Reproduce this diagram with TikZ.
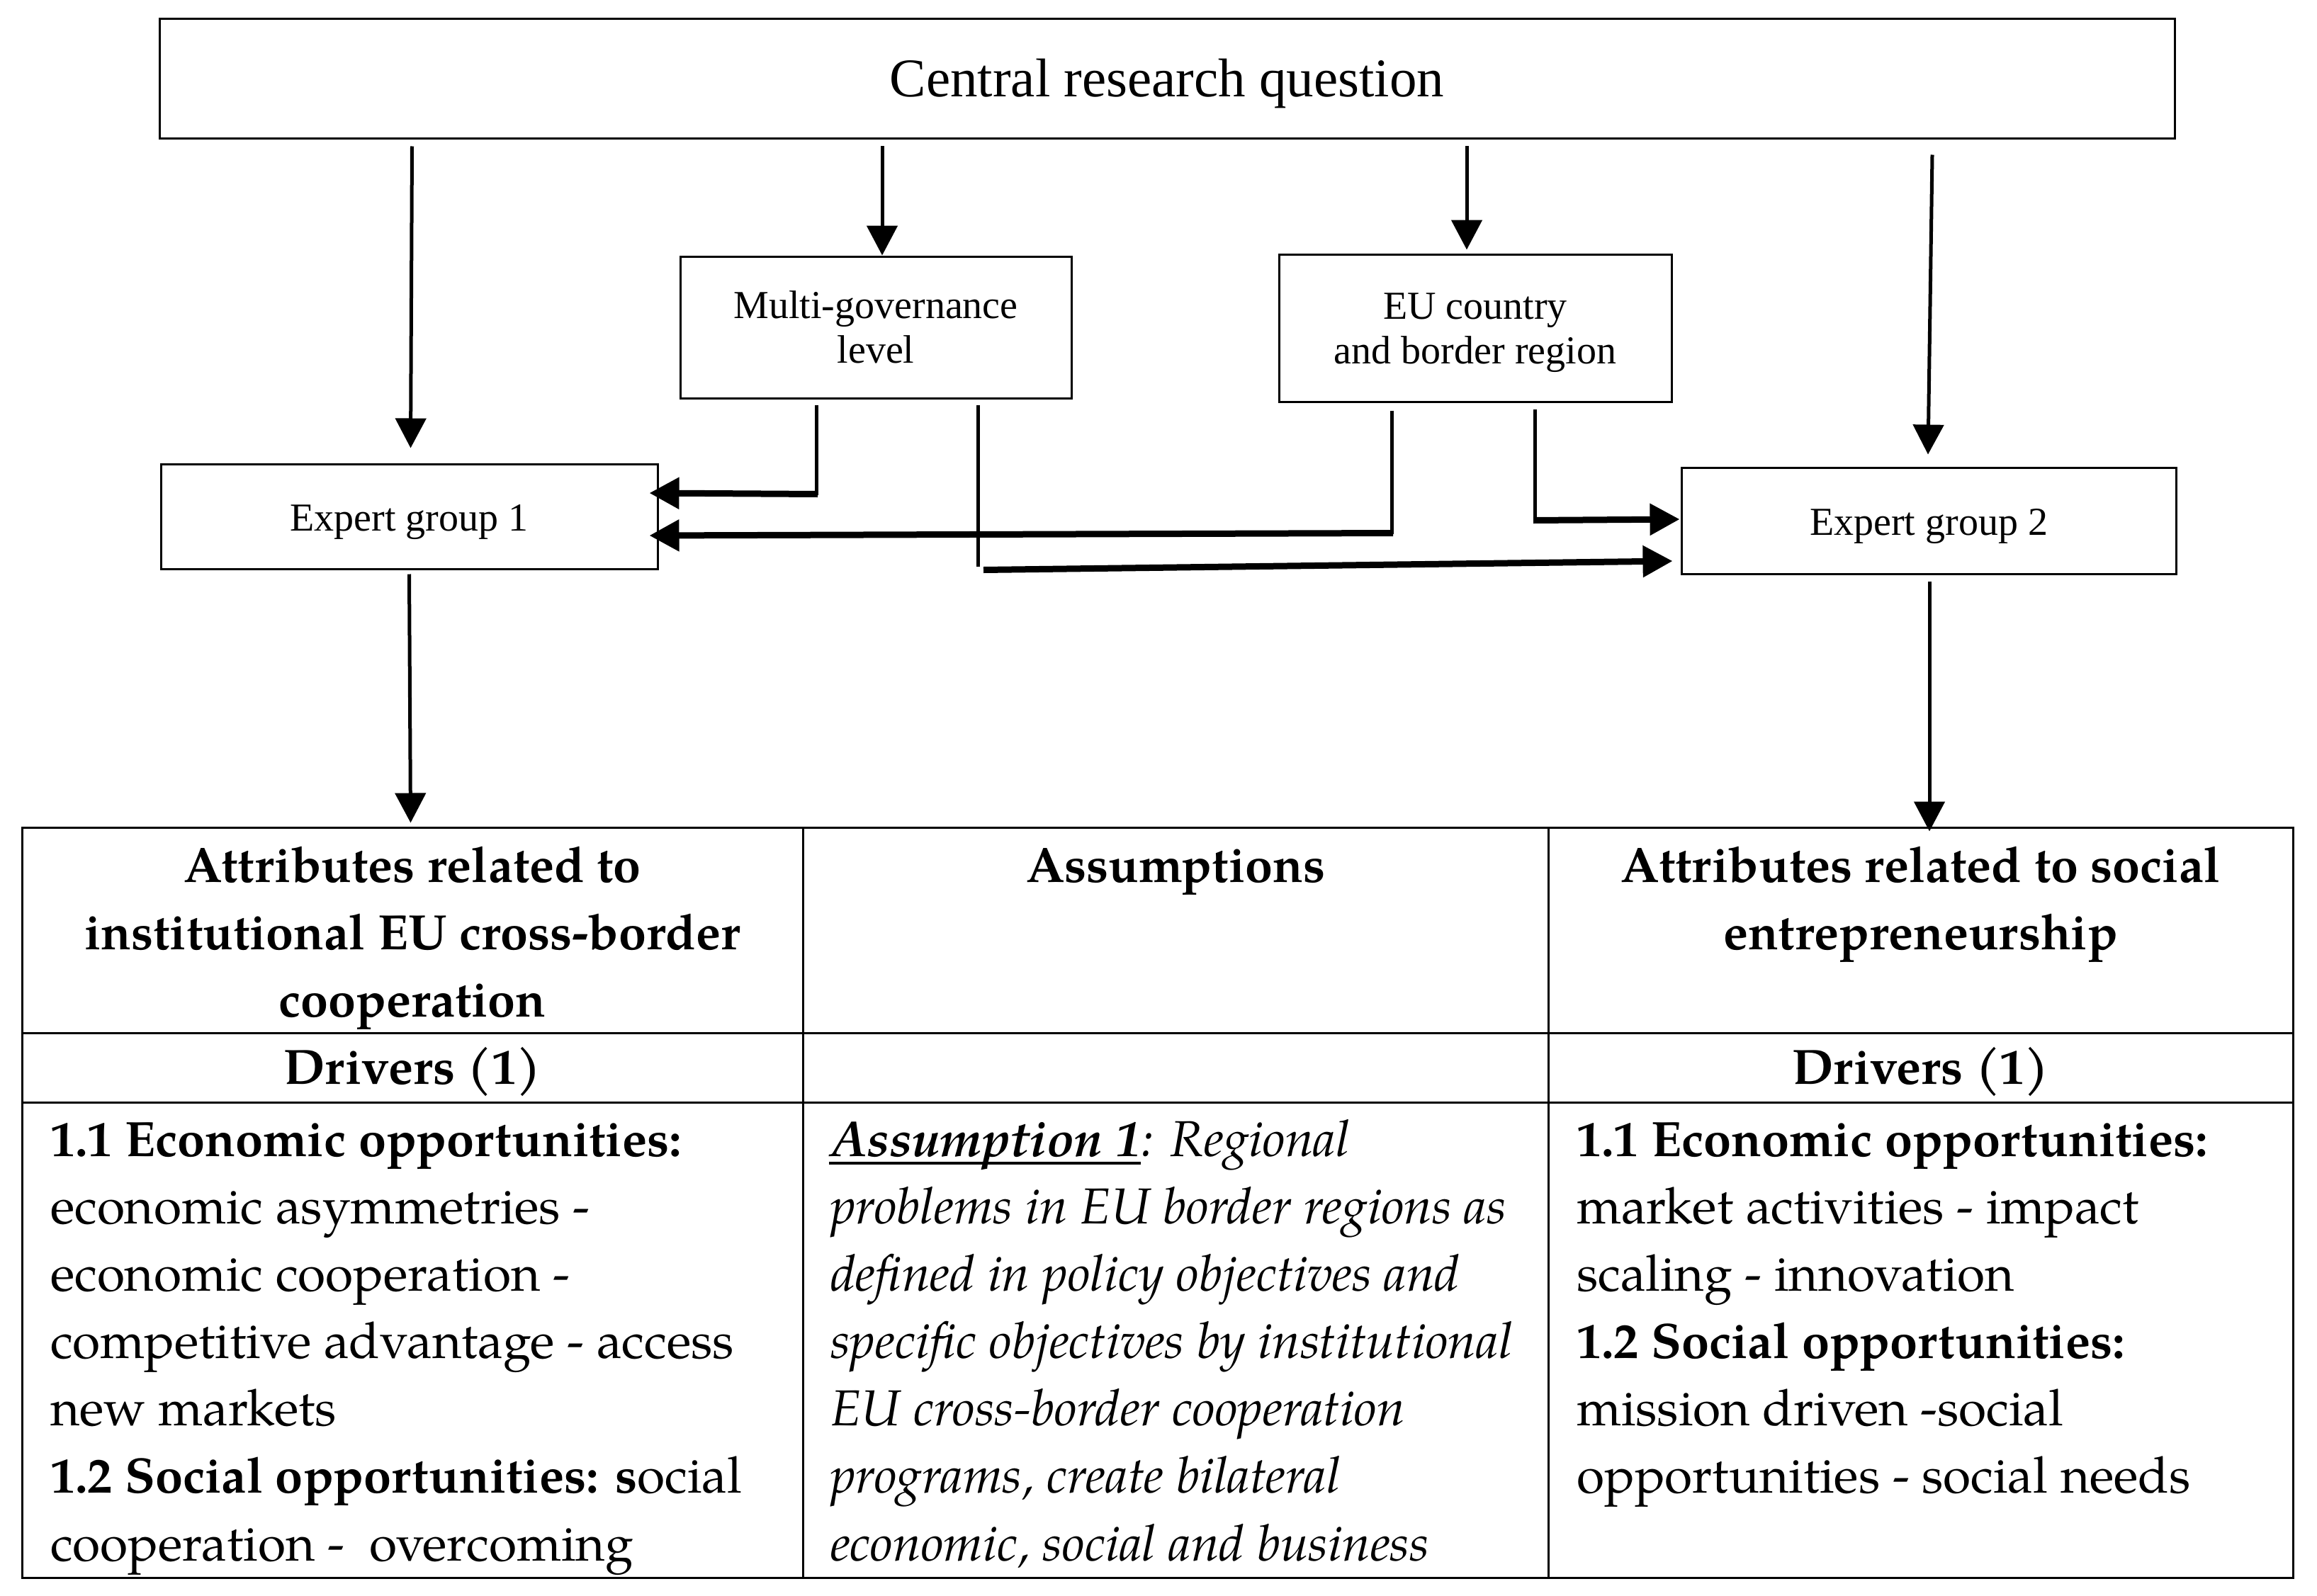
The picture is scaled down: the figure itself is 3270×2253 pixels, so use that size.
\documentclass[tikz,border=0pt]{standalone}
\usepackage{fontspec}
\setmainfont{Liberation Serif}
\newfontfamily\pal{TeX Gyre Pagella}
\newcommand{\bodybold}[1]{{\fontsize{70.2}{95}\selectfont\bfseries #1}}
\usetikzlibrary{arrows.meta,calc}
\begin{document}
\begin{tikzpicture}[x=1pt,y=-1pt,
  box/.style={draw, line width=3pt, inner sep=0pt, align=center},
  small/.style={font=\fontsize{56}{63}\selectfont},
  boxtext/.style={small, align=center, inner sep=0pt},
  cell/.style={draw, line width=3pt, inner sep=0pt},
  vline/.style={line width=5pt},
  hline/.style={line width=9pt},
  tip/.style={-{Triangle[length=42pt,width=43pt]}},
  tl/.style={anchor=base west, inner sep=0pt, font=\pal\fontsize{71.3}{95}\selectfont},
  th/.style={anchor=base, inner sep=0pt, font=\pal\bfseries\fontsize{70}{95}\selectfont},
]
\fill[white] (0,0) rectangle (3270,2253);
\useasboundingbox (0,0) rectangle (3270,2253);

% top boxes
\node[box, minimum width=2844, minimum height=169,
  label={[font=\fontsize{77}{90}\selectfont, inner sep=0pt, yshift=-6pt]center:Central research question}] (cq) at (1647,111.5) {};
\node[box, small, minimum width=552, minimum height=200] (mg) at (1236,462) {Multi-governance\\level};
\node[box, minimum width=554, minimum height=208,
  label={[boxtext, yshift=-7pt]center:EU country\\and border region}] (eu) at (2082,463) {};
\node[box, minimum width=701, minimum height=148,
  label={[boxtext, yshift=-8pt]center:Expert group 1}] (eg1) at (577.5,729) {};
\node[box, minimum width=698, minimum height=150,
  label={[boxtext, yshift=-8pt]center:Expert group 2}] (eg2) at (2722,735) {};

% table cells
\node[cell, minimum width=1102, minimum height=290] (h1) at (582,1313) {};
\node[cell, minimum width=1052, minimum height=290] (h2) at (1659,1313) {};
\node[cell, minimum width=1051, minimum height=290] (h3) at (2710.5,1313) {};
\node[cell, minimum width=1102, minimum height=98] (d1) at (582,1507) {};
\node[cell, minimum width=1052, minimum height=98] (d2) at (1659,1507) {};
\node[cell, minimum width=1051, minimum height=98] (d3) at (2710.5,1507) {};
\node[cell, minimum width=1102, minimum height=671] (b1) at (582,1891.5) {};
\node[cell, minimum width=1052, minimum height=671] (b2) at (1659,1891.5) {};
\node[cell, minimum width=1051, minimum height=671] (b3) at (2710.5,1891.5) {};

% vertical arrows
\draw[vline,tip] ($(eg1.north |- cq.south)+(4,9)$) -- ($(eg1.north)+(2,-21)$);
\draw[vline,tip] ($(mg.north |- cq.south)+(9,9)$) -- ($(mg.north)+(9,0)$);
\draw[vline,tip] ($(eu.north |- cq.south)+(-12,9)$) -- ($(eu.north)+(-12,-5)$);
\draw[vline,tip] ($(eg2.north |- cq.south)+(5,21)$) -- ($(eg2.north)+(-1,-17)$);
\draw[vline,tip] ($(eg1.south)+(0,6)$) -- ($(eg1.south |- h1.north)+(2,-5)$);
\draw[vline,tip] ($(eg2.south)+(1,9)$) -- ($(eg2.south |- h3.north)+(1,7)$);

% elbow connectors
\draw[vline] ($(mg.south)+(-84,8)$) -- ($(mg.south)+(-84,135)$);
\draw[hline,tip] ($(mg.south)+(-82,134)$) -- ($(eg1.east)+(-13,-33)$);
\draw[vline] ($(mg.south)+(144,8)$) -- ($(mg.south)+(144,236)$);
\draw[hline,tip] ($(mg.south)+(152,241)$) -- ($(eg2.west)+(-11,57)$);
\draw[vline] ($(eu.south)+(-118,11)$) -- ($(eu.south)+(-118,185)$);
\draw[hline,tip] ($(eu.south)+(-116,184)$) -- ($(eg1.east)+(-13,27)$);
\draw[vline] ($(eu.south)+(84,9)$) -- ($(eu.south)+(84,167)$);
\draw[hline,tip] ($(eu.south)+(82,166)$) -- ($(eg2.west)+(-1,-2)$);

% header texts
\node[th] (h1a) at (582,1245) {Attributes related to};
\node[th] (h1b) at (582,1340) {institutional EU cross-border};
\node[th] (h1c) at (582,1435) {cooperation};
\node[th] (h2a) at (1659,1245) {Assumptions};
\node[th] (h3a) at (2710.5,1245) {Attributes related to social};
\node[th] (h3b) at (2710.5,1340) {entrepreneurship};
\node[th] (d1a) at (582,1530) {Drivers (1)};
\node[th] (d3a) at (2710.5,1530) {Drivers (1)};

% column 1 body
\node[tl] (c1l1) at (71,1632) {\bodybold{1.1 Economic opportunities:}};
\node[tl] (c1l2) at (71,1727) {economic asymmetries -};
\node[tl] (c1l3) at (71,1822) {economic cooperation -};
\node[tl] (c1l4) at (71,1917) {competitive advantage - access};
\node[tl] (c1l5) at (71,2012) {new markets};
\node[tl] (c1l6) at (71,2107) {\bodybold{1.2 Social opportunities: s}ocial};
\node[tl] (c1l7) at (71,2203) {cooperation - \ overcoming};

% column 2 body
\node[tl] (c2a) at (1172,1632) {\bfseries\itshape Assumption 1};
\draw[line width=4.5pt] ($(c2a.base west)+(-2,10)$) -- ($(c2a.base east)+(0,10)$);
\node[tl] (c2l1) at (c2a.base east) {\itshape : Regional};
\node[tl] (c2l2) at (1172,1727) {\itshape problems in EU border regions as};
\node[tl] (c2l3) at (1172,1822) {\itshape defined in policy objectives and};
\node[tl] (c2l4) at (1172,1917) {\itshape specific objectives by institutional};
\node[tl] (c2l5) at (1172,2012) {\itshape EU cross-border cooperation};
\node[tl] (c2l6) at (1172,2107) {\itshape programs, create bilateral};
\node[tl] (c2l7) at (1172,2203) {\itshape economic, social and business};

% column 3 body
\node[tl] (c3l1) at (2225,1632) {\bodybold{1.1 Economic opportunities:}};
\node[tl] (c3l2) at (2225,1727) {market activities - impact};
\node[tl] (c3l3) at (2225,1822) {scaling - innovation};
\node[tl] (c3l4) at (2225,1917) {\bodybold{1.2 Social opportunities:}};
\node[tl] (c3l5) at (2225,2012) {mission driven -social};
\node[tl] (c3l6) at (2225,2107) {opportunities - social needs};
\end{tikzpicture}
\end{document}
